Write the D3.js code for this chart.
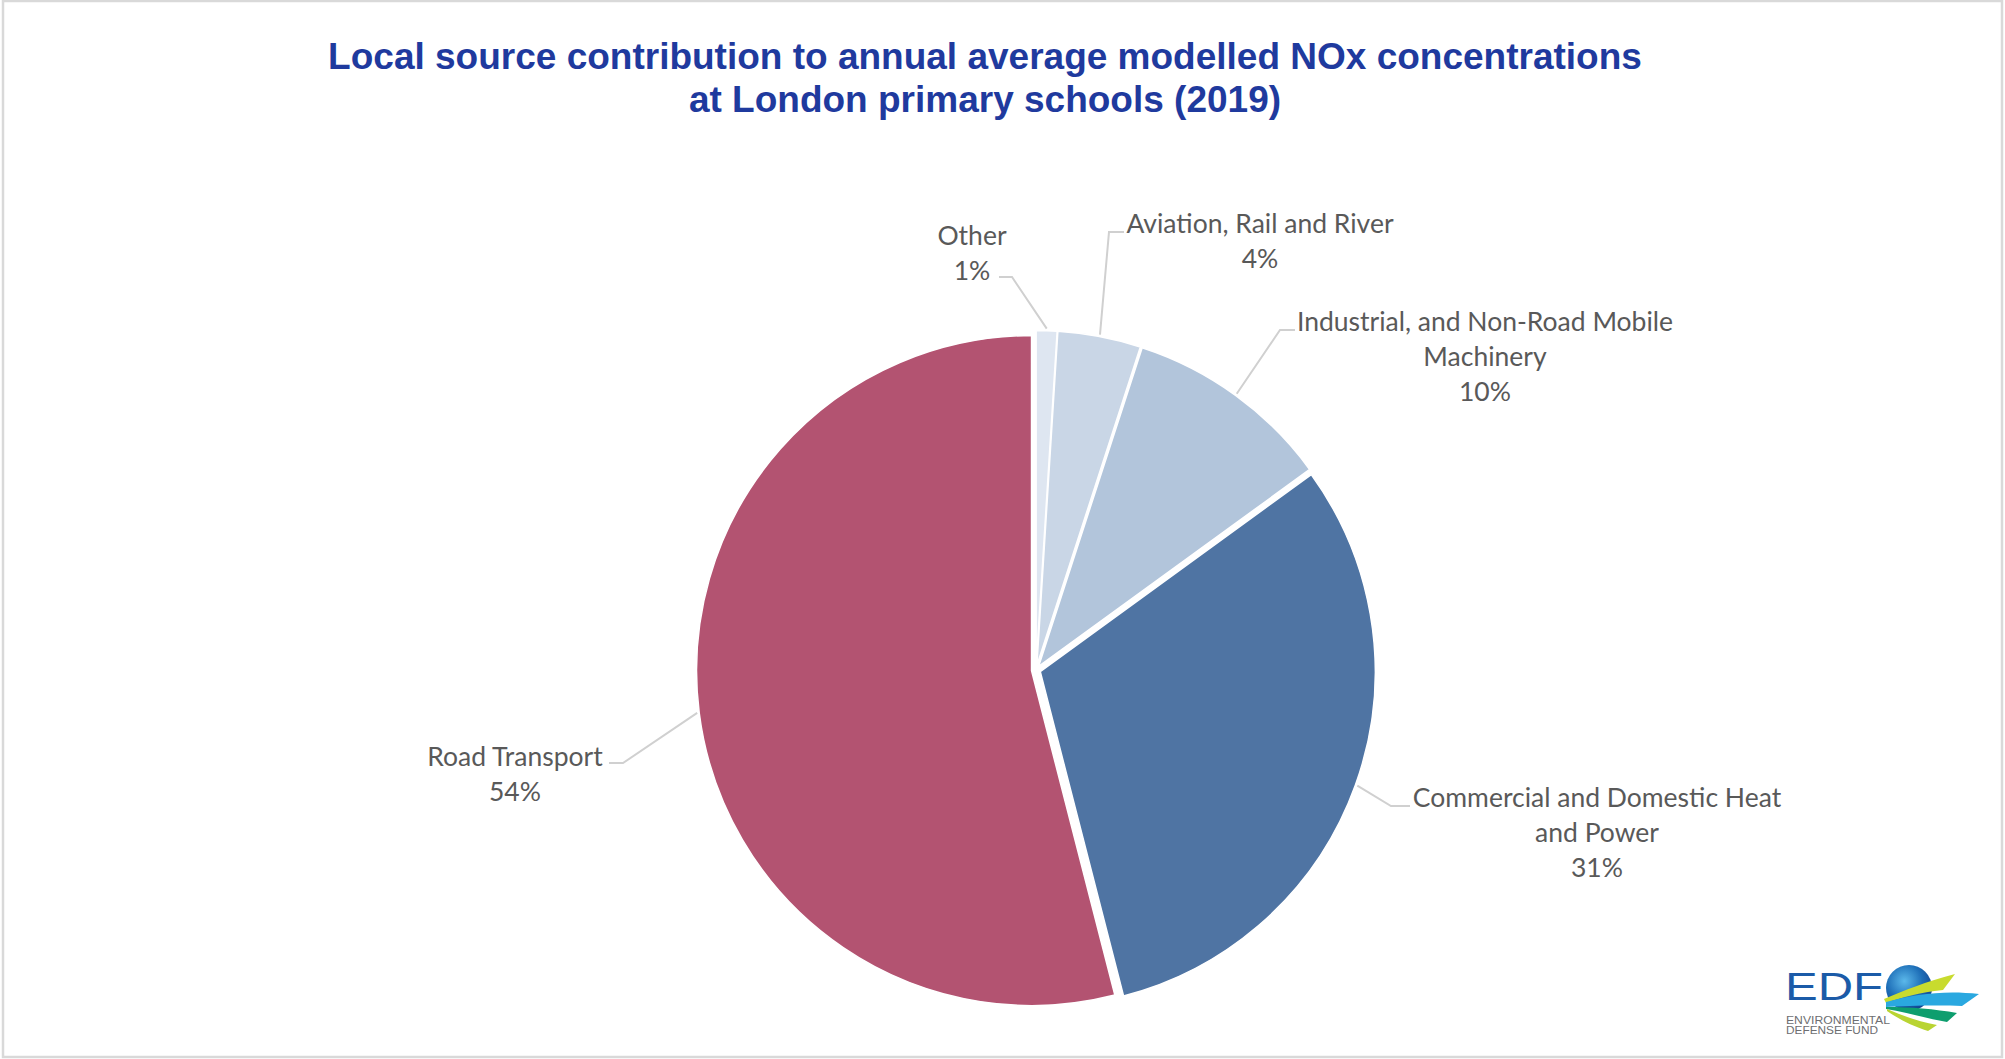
<!DOCTYPE html>
<html>
<head>
<meta charset="utf-8">
<script src="https://cdn.jsdelivr.net/npm/d3@7/dist/d3.min.js"></script>
<style>
  html, body { margin: 0; padding: 0; background: #ffffff; }
  svg { display: block; }
</style>
</head>
<body>
<svg id="chart" width="2005" height="1059"></svg>
<script>
// Local NOx source shares (%), clockwise from 12 o'clock
const categories = [
  "Other",
  "Aviation, Rail and River",
  "Industrial, and Non-Road Mobile Machinery",
  "Commercial and Domestic Heat and Power",
  "Road Transport"
];
const shares = [1, 4, 10, 31, 54];

// Label text, split into the lines drawn on the chart
const labelLines = [
  ["Other"],
  ["Aviation, Rail and River"],
  ["Industrial, and Non-Road Mobile", "Machinery"],
  ["Commercial and Domestic Heat", "and Power"],
  ["Road Transport"]
];

const titleLines = [
  "Local source contribution to annual average modelled NOx concentrations",
  "at London primary schools (2019)"
];

const colors = ["#DEE6F1", "#C9D6E6", "#B2C5DB", "#4F74A3", "#B35371"];

// Label placement: text anchor point, first-line centre y, and leader elbow
const labelLayout = [
  { x: 972,  y: 235, anchor: "middle", elbow: [1012, 277], tail: [999, 277] },
  { x: 1260, y: 223, anchor: "middle", elbow: [1109, 232], tail: [1124, 232] },
  { x: 1485, y: 321, anchor: "middle", elbow: [1280, 330], tail: [1295, 330] },
  { x: 1597, y: 797, anchor: "middle", elbow: [1391, 806], tail: [1410, 806] },
  { x: 515,  y: 756, anchor: "middle", elbow: [623, 763],  tail: [609, 763] }
];

const cx = 1036, cy = 670, R = 335, explode = 4.5, lineH = 35;

const svg = d3.select("#chart");

// Chart frame
svg.append("rect")
  .attr("x", 3).attr("y", 1)
  .attr("width", 1999).attr("height", 1056)
  .attr("fill", "#ffffff")
  .attr("stroke", "#D9D9D9").attr("stroke-width", 2.5);

// Title
svg.append("g").selectAll("text")
  .data(titleLines)
  .join("text")
  .attr("x", 985)
  .attr("y", (d, i) => 56 + i * 43)
  .attr("text-anchor", "middle")
  .attr("dominant-baseline", "central")
  .attr("font-family", "'Liberation Sans', Arial, sans-serif")
  .attr("font-weight", "bold")
  .attr("font-size", 37)
  .attr("fill", "#1F3A9E")
  .text(d => d);

// Pie
const data = categories.map((c, i) => ({ name: c, value: shares[i], color: colors[i], lines: labelLines[i], layout: labelLayout[i] }));
const pie = d3.pie().sort(null).value(d => d.value).startAngle(0).endAngle(2 * Math.PI);
const arcs = pie(data);
const arc = d3.arc().innerRadius(0).outerRadius(R);

const pieG = svg.append("g").attr("transform", `translate(${cx},${cy})`);

pieG.selectAll("path")
  .data(arcs)
  .join("path")
  .attr("transform", d => {
    const mid = (d.startAngle + d.endAngle) / 2;
    return `translate(${explode * Math.sin(mid)},${-explode * Math.cos(mid)})`;
  })
  .attr("d", arc)
  .attr("fill", d => d.data.color)
  .attr("stroke", "#ffffff")
  .attr("stroke-width", 1.5);

// Leader lines
const leaderG = svg.append("g");
arcs.forEach(d => {
  const mid = (d.startAngle + d.endAngle) / 2;
  const rr = R + explode + 2;
  const edge = [cx + rr * Math.sin(mid), cy - rr * Math.cos(mid)];
  const L = d.data.layout;
  leaderG.append("path")
    .attr("d", d3.line()([edge, L.elbow, L.tail]))
    .attr("fill", "none")
    .attr("stroke", "#D0D0D0")
    .attr("stroke-width", 2);
});

// Data labels: category lines then the percentage
const labelG = svg.append("g")
  .attr("font-family", "Lato, 'Open Sans', sans-serif")
  .attr("font-size", 26.5)
  .attr("fill", "#595959");

arcs.forEach(d => {
  const L = d.data.layout;
  const lines = d.data.lines.concat([d3.format(".0f")(d.data.value) + "%"]);
  labelG.append("g").selectAll("text")
    .data(lines)
    .join("text")
    .attr("x", L.x)
    .attr("y", (t, i) => L.y + i * lineH)
    .attr("text-anchor", L.anchor)
    .attr("dominant-baseline", "central")
    .text(t => t);
});

// EDF logo
const logo = svg.append("g");
const defs = svg.append("defs");
const globeGrad = defs.append("radialGradient").attr("id", "globe")
  .attr("cx", "40%").attr("cy", "35%").attr("r", "70%");
globeGrad.append("stop").attr("offset", "0%").attr("stop-color", "#5BB8EA");
globeGrad.append("stop").attr("offset", "55%").attr("stop-color", "#1E6FB8");
globeGrad.append("stop").attr("offset", "100%").attr("stop-color", "#123F8C");

logo.append("text")
  .attr("x", 1785).attr("y", 1000)
  .attr("font-family", "'Liberation Sans', Arial, sans-serif")
  .attr("font-size", 39)
  .attr("fill", "#1B5BA8")
  .attr("textLength", 98).attr("lengthAdjust", "spacingAndGlyphs")
  .text("EDF");
logo.append("text")
  .attr("x", 1786).attr("y", 1024)
  .attr("font-family", "'Liberation Sans', Arial, sans-serif")
  .attr("font-size", 10)
  .attr("fill", "#6D6E71")
  .attr("textLength", 104).attr("lengthAdjust", "spacingAndGlyphs")
  .text("ENVIRONMENTAL");
logo.append("text")
  .attr("x", 1786).attr("y", 1034)
  .attr("font-family", "'Liberation Sans', Arial, sans-serif")
  .attr("font-size", 10)
  .attr("fill", "#6D6E71")
  .attr("textLength", 92).attr("lengthAdjust", "spacingAndGlyphs")
  .text("DEFENSE FUND");
logo.append("circle")
  .attr("cx", 1909).attr("cy", 988).attr("r", 23)
  .attr("fill", "url(#globe)");
// Swooshes fanning out from the globe
logo.append("path")
  .attr("d", "M1884,999 C1905,990 1925,982 1955,974 L1943,990 C1920,992 1900,998 1886,1003 Z")
  .attr("fill", "#C8DB2E");
logo.append("path")
  .attr("d", "M1886,1002 C1915,994 1945,990 1979,994 L1962,1006 C1935,1005 1905,1006 1886,1007 Z")
  .attr("fill", "#2AA8E0");
logo.append("path")
  .attr("d", "M1886,1007 C1910,1007 1935,1009 1957,1013 L1947,1022 C1925,1018 1905,1012 1886,1009 Z")
  .attr("fill", "#0E9E6E");
logo.append("path")
  .attr("d", "M1887,1009 C1903,1016 1920,1022 1937,1025 L1928,1031 C1912,1026 1897,1018 1887,1011 Z")
  .attr("fill", "#B9D432");
</script>
</body>
</html>
